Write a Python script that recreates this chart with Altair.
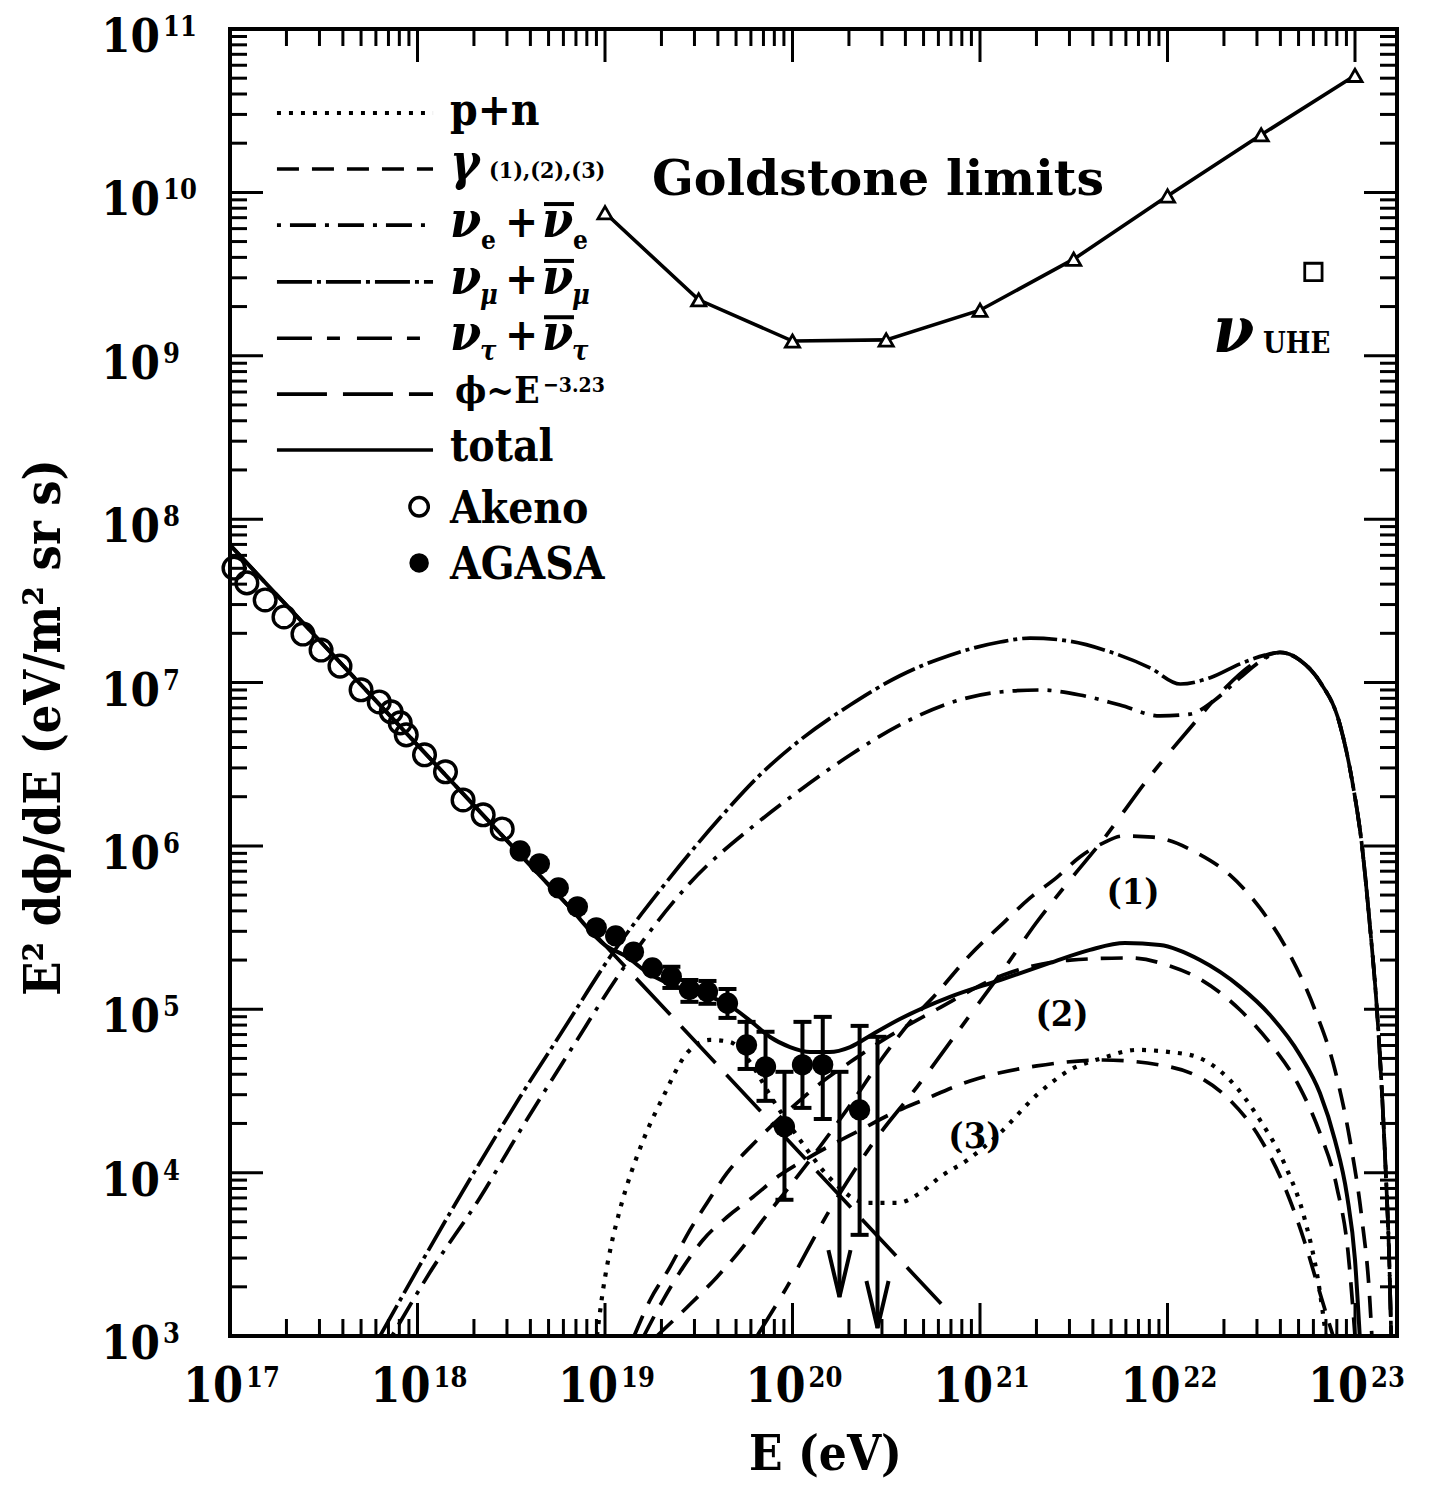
import altair as alt
import pandas as pd

# ---------------- values ----------------
AKENO_E = [1.05e17, 1.23e17, 1.54e17, 1.94e17, 2.45e17, 3.06e17, 3.86e17, 5.00e17, 6.25e17,
           7.24e17, 8.09e17, 8.71e17, 1.09e18, 1.41e18, 1.75e18, 2.24e18, 2.83e18]
AKENO_F = [5.02e7, 4.07e7, 3.20e7, 2.52e7, 1.98e7, 1.58e7, 1.26e7, 9.02e6, 7.60e6,
           6.61e6, 5.66e6, 4.78e6, 3.61e6, 2.84e6, 1.91e6, 1.55e6, 1.27e6]

AGASA_E = [3.53e18, 4.47e18, 5.64e18, 7.13e18, 8.99e18, 1.14e19, 1.42e19, 1.79e19, 2.26e19,
           2.82e19, 3.52e19, 4.50e19, 5.69e19, 7.18e19, 9.06e19, 1.13e20, 1.45e20, 2.28e20]
AGASA_F = [9.31e5, 7.76e5, 5.53e5, 4.24e5, 3.15e5, 2.81e5, 2.24e5, 1.79e5, 1.58e5,
           1.32e5, 1.28e5, 1.09e5, 6.05e4, 4.44e4, 1.91e4, 4.57e4, 4.57e4, 2.42e4]

ERR_E = [2.26e19, 2.82e19, 3.52e19, 4.50e19, 5.69e19, 7.18e19, 9.06e19, 1.13e20, 1.45e20, 2.28e20]
ERR_LO = [1.35e5, 1.11e5, 1.08e5, 8.85e4, 4.31e4, 2.75e4, 6.82e3, 2.49e4, 2.13e4, 4.16e3]
ERR_HI = [1.82e5, 1.51e5, 1.49e5, 1.33e5, 8.37e4, 7.28e4, 4.14e4, 8.37e4, 8.98e4, 7.91e4]

UL_E = [1.78e20, 2.84e20]
UL_TOP = [4.14e4, 6.78e4]
UL_TIP = [1.73e3, 1.12e3]

GOLD_E = [1e19, 3.16e19, 1e20, 3.16e20, 1e21, 3.16e21, 1e22, 3.16e22, 1e23]
GOLD_F = [7.5e9, 2.2e9, 1.23e9, 1.25e9, 1.9e9, 3.9e9, 9.5e9, 2.25e10, 5.2e10]

UHE_E = [6.0e22]
UHE_F = [3.26e9]

PL_E = [1.0e17, 6.75e20]
PL_F = [6.95e7, 1.42e3]

TOTAL_E = [1.0e17, 1.0e18, 3.16e18, 6.31e18, 1.0e19, 1.31e19, 1.67e19, 2.14e19, 2.74e19, 3.50e19,
           4.82e19, 6.15e19, 7.59e19, 9.70e19, 1.24e20, 1.58e20, 2.03e20, 2.69e20, 3.74e20,
           6.92e20, 1.28e21, 2.36e21, 3.86e21, 5.93e21, 9.12e21, 1.49e22, 2.44e22, 3.52e22,
           5.09e22, 6.50e22, 7.82e22, 9.06e22, 1.0e23, 1.06e23]
TOTAL_F = [6.95e7, 4.14e6, 1.01e6, 4.35e5, 2.47e5, 2.09e5, 1.69e5, 1.45e5, 1.31e5, 1.21e5,
           1.02e5, 8.24e4, 6.76e4, 5.87e4, 5.47e4, 5.47e4, 5.87e4, 7.06e4, 8.71e4,
           1.19e5, 1.51e5, 1.92e5, 2.31e5, 2.54e5, 2.47e5, 2.00e5, 1.37e5, 9.22e4,
           5.25e4, 3.07e4, 1.58e4, 7.29e3, 2.92e3, 1.0e3]

PN_E = [9.06e18, 9.76e18, 1.08e19, 1.20e19, 1.60e19, 2.04e19, 2.74e19, 3.63e19, 4.64e19, 5.93e19,
        7.87e19, 1.10e20, 1.58e20, 2.50e20, 3.61e20, 4.79e20, 6.12e20, 8.53e20, 1.28e21, 2.01e21,
        3.02e21, 4.53e21, 6.88e21, 1.03e22, 1.44e22, 2.15e22, 3.11e22, 4.24e22, 5.41e22, 6.35e22, 7.00e22]
PN_F = [1.0e3, 1.91e3, 3.61e3, 5.90e3, 1.58e4, 2.90e4, 5.40e4, 6.49e4, 6.31e4, 4.75e4,
        2.78e4, 1.58e4, 9.27e3, 6.52e3, 6.52e3, 7.50e3, 9.40e3, 1.19e4, 1.75e4, 2.99e4,
        4.25e4, 5.04e4, 5.64e4, 5.47e4, 5.10e4, 3.69e4, 2.10e4, 1.11e4, 5.13e3, 2.20e3, 1.0e3]

G1_E = [1.89e19, 2.74e19, 3.96e19, 5.45e19, 6.96e19, 9.70e19, 1.40e20, 2.03e20, 3.04e20, 4.24e20,
        5.90e20, 8.85e20, 1.33e21, 1.85e21, 2.58e21, 3.41e21, 4.53e21, 5.79e21, 8.37e21, 1.44e22,
        2.15e22, 3.11e22, 4.50e22, 6.12e22, 7.82e22, 9.40e22, 1.09e23, 1.19e23, 1.23e23]
G1_F = [1.0e3, 1.50e3, 2.30e3, 3.51e3, 5.13e3, 8.28e3, 1.44e4, 2.59e4, 5.10e4, 8.36e4,
        1.26e5, 2.15e5, 3.37e5, 4.80e5, 6.44e5, 8.55e5, 1.04e6, 1.15e6, 1.13e6, 9.04e5,
        6.64e5, 4.17e5, 2.15e5, 9.89e4, 4.25e4, 1.58e4, 5.13e3, 1.91e3, 1.0e3]

G2_E = [1.43e19, 1.74e19, 2.22e19, 2.84e19, 3.50e19, 4.48e19, 6.47e19, 1.10e20, 1.53e20, 2.03e20,
        2.93e20, 5.90e20, 1.33e21, 3.02e21, 6.31e21, 1.03e22, 1.49e22, 2.44e22, 3.52e22, 5.09e22,
        6.50e22, 8.02e22, 9.18e22, 1.0e23]
G2_F = [1.0e3, 1.66e3, 2.64e3, 4.46e3, 6.52e3, 9.95e3, 1.58e4, 2.78e4, 3.79e4, 4.75e4,
        6.31e4, 1.00e5, 1.62e5, 2.00e5, 2.06e5, 1.84e5, 1.53e5, 9.89e4, 6.21e4, 3.30e4,
        1.75e4, 8.05e3, 3.27e3, 1.0e3]

G3_E = [1.61e19, 2.04e19, 2.61e19, 3.33e19, 4.48e19, 6.16e19, 8.58e19, 1.24e20, 2.29e20, 3.44e20,
        4.97e20, 8.85e20, 2.01e21, 4.53e21, 1.03e22, 1.44e22, 2.15e22, 3.11e22, 4.24e22, 5.41e22,
        6.67e22, 7.64e22]
G3_F = [1.0e3, 1.66e3, 2.64e3, 3.87e3, 5.35e3, 7.10e3, 9.66e3, 1.25e4, 1.82e4, 2.32e4,
        2.78e4, 3.64e4, 4.50e4, 4.89e4, 4.44e4, 3.90e4, 2.78e4, 1.63e4, 8.05e3, 3.71e3,
        1.66e3, 1.0e3]

NU_MU_E = [6.31e17, 1.01e18, 1.49e18, 2.15e18, 3.52e18, 5.75e18, 1.10e19, 1.97e19, 4.01e19, 6.71e19,
           1.10e20, 2.03e20, 3.74e20, 6.92e20, 1.28e21, 1.85e21, 3.02e21, 4.94e21, 8.07e21, 1.17e22,
           1.69e22, 2.44e22, 3.31e22]
NU_MU_F = [1.0e3, 2.61e3, 5.66e3, 1.15e4, 2.90e4, 6.95e4, 2.21e5, 5.37e5, 1.44e6, 2.72e6,
           4.45e6, 7.28e6, 1.10e7, 1.47e7, 1.77e7, 1.87e7, 1.79e7, 1.54e7, 1.23e7, 9.79e6,
           1.07e7, 1.30e7, 1.47e7]

NU_E_E = [7.31e17, 1.17e18, 2.15e18, 3.52e18, 6.51e18, 1.31e19, 2.84e19, 6.47e19, 1.10e20, 2.03e20,
          3.74e20, 6.92e20, 1.28e21, 2.09e21, 3.41e21, 5.58e21, 9.12e21, 1.32e22, 1.79e22, 2.44e22,
          3.19e22]
NU_E_F = [1.0e3, 2.47e3, 7.00e3, 1.80e4, 5.55e4, 1.92e5, 5.93e5, 1.38e6, 2.20e6, 3.60e6,
          5.50e6, 7.50e6, 8.75e6, 9.00e6, 8.39e6, 7.28e6, 6.24e6, 6.41e6, 7.82e6, 1.07e7,
          1.37e7]

NU_TAU_E = [6.47e19, 9.35e19, 1.58e20, 2.69e20, 4.61e20, 8.85e20, 1.33e21, 2.01e21, 3.02e21,
            4.53e21, 7.78e21, 1.32e22, 2.03e22, 2.75e22]
NU_TAU_F = [1.0e3, 2.00e3, 5.90e3, 1.52e4, 3.34e4, 9.22e4, 1.74e5, 3.42e5, 6.18e5,
            1.09e6, 2.53e6, 5.27e6, 9.25e6, 1.26e7]

# common high-energy peak and cut-off of the three neutrino flavours
NU_TAIL_E = [3.98e22, 5.09e22, 6.50e22, 8.32e22, 9.64e22, 1.09e23, 1.20e23, 1.31e23, 1.39e23,
             1.46e23, 1.52e23, 1.56e23]
NU_TAIL_F = [1.53e7, 1.37e7, 1.01e7, 5.50e6, 2.53e6, 9.98e5, 3.28e5, 9.89e4, 3.21e4,
             9.95e3, 3.13e3, 1.0e3]

# legend / annotation anchors (data units)
LEG_ROWS_F = [3.06e10, 1.39e10, 6.31e9, 2.83e9, 1.28e9, 5.83e8, 2.65e8, 1.19e8, 5.39e7]
LEG_LINE_E = [1.78e17, 1.21e18]
LEG_TEXT_E = 1.49e18
LEG_MARK_E = 1.02e18

X_EXP = list(range(17, 24))
Y_EXP = list(range(3, 12))
X_MAJOR = [float(10 ** k) for k in X_EXP]
X_MINOR = [float(m * 10 ** k) for k in range(17, 23) for m in range(2, 10)]
Y_MAJOR = [float(10 ** k) for k in Y_EXP]
Y_MINOR = [float(m * 10 ** k) for k in range(3, 11) for m in range(2, 10)]

# ---------------- styling ----------------
W, H = 1167, 1307
FONT = "DejaVu Serif Condensed, DejaVu Serif"
WIDEFONT = "DejaVu Serif"
LW = 3.7

XSCALE = alt.Scale(type="log", domain=[1e17, 1.675e23], nice=False)
YSCALE = alt.Scale(type="log", domain=[1e3, 1e11], nice=False)

X_AXIS = alt.Axis(values=X_MAJOR, labels=False, ticks=False, domain=False, grid=False,
                  title="E (eV)", titleFont=FONT, titleFontSize=49, titleFontWeight="bold",
                  titleColor="black", titleX=595, titleY=118, titleBaseline="middle",
                  titleAlign="center")
Y_AXIS = alt.Axis(values=Y_MAJOR, labels=False, ticks=False, domain=False, grid=False,
                  title="E² dϕ/dE (eV/m² sr s)", titleFont=FONT, titleFontSize=50,
                  titleFontWeight="bold", titleColor="black", titleAngle=270,
                  titleX=-186, titleY=698, titleBaseline="middle", titleAlign="center")


def X(f):
    return alt.X(f, type="quantitative", scale=XSCALE, axis=X_AXIS)


def Y(f):
    return alt.Y(f, type="quantitative", scale=YSCALE, axis=Y_AXIS)


def curve(E, F, dash=None, width=LW, interp="monotone"):
    kw = dict(color="black", strokeWidth=width, interpolate=interp, clip=True)
    if dash:
        kw["strokeDash"] = dash
    return alt.Chart(pd.DataFrame({"E": E, "F": F})).mark_line(**kw).encode(x=X("E"), y=Y("F"))


DASH = {
    "pn": [4, 8],
    "gamma": [22, 13],
    "nue": [4, 9, 26, 9],
    "numu": [35, 5, 4, 5],
    "nutau": [35, 15, 13, 17],
    "phi": [50, 16],
}

layers = []
layers.append(curve(PL_E, PL_F, DASH["phi"], interp="linear"))
layers.append(curve(NU_E_E + NU_TAIL_E, NU_E_F + NU_TAIL_F, DASH["nue"]))
layers.append(curve(NU_MU_E + NU_TAIL_E, NU_MU_F + NU_TAIL_F, DASH["numu"]))
layers.append(curve(NU_TAU_E + NU_TAIL_E, NU_TAU_F + NU_TAIL_F, DASH["nutau"]))
layers.append(curve(G1_E, G1_F, DASH["gamma"]))
layers.append(curve(G2_E, G2_F, DASH["gamma"]))
layers.append(curve(G3_E, G3_F, DASH["gamma"]))
layers.append(curve(PN_E, PN_F, DASH["pn"], width=4.2))
layers.append(curve(TOTAL_E, TOTAL_F, None, width=4))

# Goldstone limits
gold = pd.DataFrame({"E": GOLD_E, "F": GOLD_F})
layers.append(alt.Chart(gold).mark_line(color="black", strokeWidth=3.6).encode(x=X("E"), y=Y("F")))
layers.append(alt.Chart(gold).mark_point(shape="triangle-up", size=200, fill="white", fillOpacity=1,
                                          stroke="black", strokeWidth=2.8, opacity=1)
              .encode(x=X("E"), y=Y("F")))
layers.append(alt.Chart(pd.DataFrame({"E": UHE_E, "F": UHE_F}))
              .mark_point(shape="square", size=300, stroke="black", strokeWidth=2.8, opacity=1)
              .encode(x=X("E"), y=Y("F")))

# AGASA error bars and upper limits
err = pd.DataFrame({"E": ERR_E, "lo": ERR_LO, "hi": ERR_HI})
layers.append(alt.Chart(err).mark_rule(color="black", strokeWidth=4)
              .encode(x=X("E"), y=Y("lo"), y2=alt.Y2("hi")))
CAP = "M-1,0L1,0"
for col in ["lo", "hi"]:
    layers.append(alt.Chart(err).mark_point(shape=CAP, size=324, stroke="black", strokeWidth=4, opacity=1)
                  .encode(x=X("E"), y=Y(col)))
ul = pd.DataFrame({"E": UL_E, "top": UL_TOP, "tip": UL_TIP})
layers.append(alt.Chart(ul).mark_rule(color="black", strokeWidth=4)
              .encode(x=X("E"), y=Y("top"), y2=alt.Y2("tip")))
layers.append(alt.Chart(ul).mark_point(shape=CAP, size=324, stroke="black", strokeWidth=4, opacity=1)
              .encode(x=X("E"), y=Y("top")))
layers.append(alt.Chart(ul).mark_point(shape="M-0.47,-2L0,0L0.47,-2", size=2209, stroke="black",
                                        strokeWidth=4, opacity=1)
              .encode(x=X("E"), y=Y("tip")))

# data points
layers.append(alt.Chart(pd.DataFrame({"E": AGASA_E, "F": AGASA_F}))
              .mark_circle(size=450, color="black", opacity=1).encode(x=X("E"), y=Y("F")))
layers.append(alt.Chart(pd.DataFrame({"E": AKENO_E, "F": AKENO_F}))
              .mark_point(shape="circle", size=470, stroke="black", strokeWidth=3.4, opacity=1)
              .encode(x=X("E"), y=Y("F")))

# ---------------- legend ----------------
leg_dashes = [DASH["pn"], DASH["gamma"], DASH["nue"], DASH["numu"], DASH["nutau"], DASH["phi"], None]
for i, d in enumerate(leg_dashes):
    kw = dict(color="black", strokeWidth=4.2 if i == 0 else LW)
    if d:
        kw["strokeDash"] = d
    df = pd.DataFrame({"x0": [LEG_LINE_E[0]], "x1": [LEG_LINE_E[1]], "y": [LEG_ROWS_F[i]]})
    layers.append(alt.Chart(df).mark_rule(**kw).encode(x=X("x0"), x2=alt.X2("x1"), y=Y("y")))

layers.append(alt.Chart(pd.DataFrame({"E": [LEG_MARK_E], "F": [LEG_ROWS_F[7]]}))
              .mark_point(shape="circle", size=340, stroke="black", strokeWidth=3.4, opacity=1)
              .encode(x=X("E"), y=Y("F")))
layers.append(alt.Chart(pd.DataFrame({"E": [LEG_MARK_E], "F": [LEG_ROWS_F[8]]}))
              .mark_circle(size=380, color="black", opacity=1).encode(x=X("E"), y=Y("F")))

# overbars of the antineutrinos
bars = pd.DataFrame({"E": [LEG_TEXT_E] * 3, "F": LEG_ROWS_F[2:5]})
layers.append(alt.Chart(bars).mark_rule(color="black", strokeWidth=4, xOffset=94, x2Offset=124,
                                        yOffset=-21, y2Offset=-21)
              .encode(x=X("E"), x2=alt.X2("E"), y=Y("F")))

LEG_TEXT = [
    # rows, texts, dx, dy, size, style, font
    ([0], ["p+n"], 0, 12, 44, "normal", FONT),
    ([1], ["γ"], 0, 10, 50, "italic", FONT),
    ([1], ["(1),(2),(3)"], 39, 9, 23, "normal", FONT),
    ([2, 3, 4], ["ν", "ν", "ν"], 0, 12, 50, "italic", FONT),
    ([2, 3, 4], ["+", "+", "+"], 55, 12, 44, "normal", FONT),
    ([2, 3, 4], ["ν", "ν", "ν"], 92, 12, 50, "italic", FONT),
    ([2], ["e"], 31, 24, 26, "normal", FONT),
    ([2], ["e"], 123, 24, 26, "normal", FONT),
    ([3, 4], ["μ", "τ"], 30, 22, 27, "italic", FONT),
    ([3, 4], ["μ", "τ"], 122, 22, 27, "italic", FONT),
    ([5], ["ϕ~E"], 5, 9, 37, "normal", FONT),
    ([5], ["−3.23"], 93, -2, 21, "normal", FONT),
    ([6], ["total"], 0, 11, 44, "normal", FONT),
    ([7, 8], ["Akeno", "AGASA"], 0, 16, 44, "normal", FONT),
]
for rows, texts, dx, dy, size, style, fnt in LEG_TEXT:
    df = pd.DataFrame({"E": [LEG_TEXT_E] * len(rows), "F": [LEG_ROWS_F[r] for r in rows], "t": texts})
    layers.append(alt.Chart(df).mark_text(font=fnt, fontSize=size, fontWeight="bold", fontStyle=style,
                                          align="left", baseline="alphabetic", dx=dx, dy=dy, color="black")
                  .encode(x=X("E"), y=Y("F"), text="t"))

# ---------------- annotations ----------------
ANNOT = [
    # E, F, text, size, style, align, baseline, dx, dy, font
    (1.78e19, 1.19e10, "Goldstone limits", 49, "normal", "left", "middle", 0, 0, WIDEFONT),
    (6.55e21, 5.15e5, "(1)", 36, "normal", "center", "middle", 0, 0, FONT),
    (2.74e21, 9.22e4, "(2)", 36, "normal", "center", "middle", 0, 0, FONT),
    (9.40e20, 1.65e4, "(3)", 36, "normal", "center", "middle", 0, 0, FONT),
    (1.75e22, 1.16e9, "ν", 66, "italic", "left", "alphabetic", 0, 7, FONT),
    (1.75e22, 1.16e9, "UHE", 29, "normal", "left", "alphabetic", 50, 8, FONT),
]
for E, F, t, size, style, align, base, dx, dy, fnt in ANNOT:
    df = pd.DataFrame({"E": [E], "F": [F], "t": [t]})
    layers.append(alt.Chart(df).mark_text(font=fnt, fontSize=size, fontWeight="bold", fontStyle=style,
                                          align=align, baseline=base, dx=dx, dy=dy, color="black")
                  .encode(x=X("E"), y=Y("F"), text="t"))

# ---------------- tick labels: "10" with a raised exponent ----------------
xl = pd.DataFrame({"v": X_MAJOR, "b": ["10"] * len(X_EXP), "e": [str(k) for k in X_EXP]})
layers.append(alt.Chart(xl).mark_text(font=FONT, fontSize=48, fontWeight="bold", align="right",
                                      baseline="alphabetic", dx=13, color="black")
              .encode(x=X("v"), y=alt.value(H + 66), text="b"))
layers.append(alt.Chart(xl).mark_text(font=FONT, fontSize=27, fontWeight="bold", align="left",
                                      baseline="alphabetic", dx=16, color="black")
              .encode(x=X("v"), y=alt.value(H + 51), text="e"))
yl = pd.DataFrame({"v": Y_MAJOR, "b": ["10"] * len(Y_EXP), "e": [str(k) for k in Y_EXP]})
layers.append(alt.Chart(yl).mark_text(font=FONT, fontSize=47, fontWeight="bold", align="right",
                                      baseline="alphabetic", dy=23, color="black")
              .encode(x=alt.value(-70), y=Y("v"), text="b"))
layers.append(alt.Chart(yl).mark_text(font=FONT, fontSize=27, fontWeight="bold", align="left",
                                      baseline="alphabetic", dy=7, color="black")
              .encode(x=alt.value(-67), y=Y("v"), text="e"))

# ---------------- inward ticks on all four sides ----------------
MAJ, MIN_ = 33, 17
for vals, L in [(Y_MAJOR, MAJ), (Y_MINOR, MIN_)]:
    df = pd.DataFrame({"v": vals})
    layers.append(alt.Chart(df).mark_rule(color="black", strokeWidth=3)
                  .encode(y=Y("v"), x=alt.value(0), x2=alt.value(L)))
    layers.append(alt.Chart(df).mark_rule(color="black", strokeWidth=3)
                  .encode(y=Y("v"), x=alt.value(W), x2=alt.value(W - L)))
for vals, L in [(X_MAJOR, MAJ), (X_MINOR, MIN_)]:
    df = pd.DataFrame({"v": vals})
    layers.append(alt.Chart(df).mark_rule(color="black", strokeWidth=3)
                  .encode(x=X("v"), y=alt.value(H), y2=alt.value(H - L)))
    layers.append(alt.Chart(df).mark_rule(color="black", strokeWidth=3)
                  .encode(x=X("v"), y=alt.value(0), y2=alt.value(L)))

chart = (alt.layer(*layers)
         .properties(width=W, height=H, background="white",
                     padding={"left": 222, "top": 21, "right": 26, "bottom": 144},
                     autosize=alt.AutoSizeParams(type="none"))
         .configure_view(stroke="black", strokeWidth=4))

chart.save("out.html", embed_options={"renderer": "svg", "actions": False})
